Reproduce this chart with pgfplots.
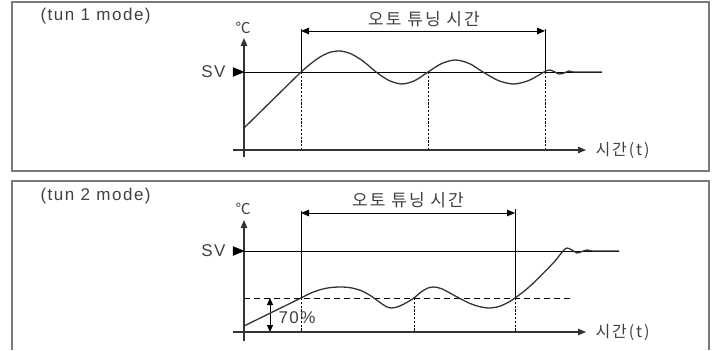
\documentclass[border=0pt]{standalone}
\usepackage{fontspec}
\setmainfont{Liberation Sans}[LetterSpace=9]
\newfontfamily\kr{Noto Sans CJK KR}[LetterSpace=12]
\usepackage{pgfplots}
\pgfplotsset{compat=1.18}
\usetikzlibrary{arrows.meta}

\definecolor{ink}{HTML}{333333}
\definecolor{txt}{HTML}{404040}
\definecolor{frame}{HTML}{7A7A7A}

\tikzset{
  ar/.style={-{Triangle[length=8pt,width=6.5pt]}},
  arr/.style={{Triangle[length=8pt,width=6.5pt]}-{Triangle[length=8pt,width=6.5pt]}},
  fine dash/.style={dash pattern=on 2.2pt off 1.6pt},
  long dash/.style={dash pattern=on 6pt off 4pt},
}
\pgfplotsset{panel/.style={
  scale only axis, width=716pt, height=175pt,
  xmin=0, xmax=716, y dir=reverse, hide axis, clip=false,
}}

\begin{document}
\begin{tikzpicture}
% ---------- tun 1 mode ----------
\begin{axis}[panel, ymin=0, ymax=175, at={(0,0)}, anchor=north west]
\addplot[draw=none] coordinates {(0,0) (716,175)};
\addplot[frame, line width=1.6pt, line cap=rect] coordinates {(12,2) (709,2) (709,171) (12,171) (12,2)};
\node[anchor=west, text=txt, font=\fontsize{17}{20}\selectfont] at (axis cs:37,16) {(tun 1 mode)};
% guides
\addplot[black, line width=0.9pt, fine dash] coordinates {(301,72) (301,150)};
\addplot[black, line width=0.9pt, fine dash] coordinates {(428,72) (428,150)};
\addplot[black, line width=0.9pt, fine dash] coordinates {(545,72) (545,150)};
\addplot[black, line width=1pt] coordinates {(301,29) (301,72)};
\addplot[black, line width=1pt] coordinates {(545,29) (545,72)};
\addplot[black, line width=1pt, arr] coordinates {(301,31) (545,31)};
\node[text=txt, font=\kr\fontsize{17}{20}\selectfont] at (axis cs:424,19) {오토 튜닝 시간};
% axes
\addplot[ink, line width=1.4pt, ar] coordinates {(244,157) (244,38)};
\addplot[ink, line width=1.1pt, ar] coordinates {(233,150) (586,150)};
\node[anchor=west, text=txt, font=\kr\fontsize{16}{19}\selectfont] at (axis cs:592,150) {시간(t)};
\node[text=txt, font=\kr\fontsize{15}{17}\selectfont] at (axis cs:243,28) {℃};
\node[anchor=east, text=txt, font=\fontsize{17}{20}\selectfont] at (axis cs:229,72) {SV};
\addplot[black, fill=black] coordinates {(233,67.5) (244,72) (233,76.5) (233,67.5)};
\addplot[black, line width=1pt] coordinates {(244,72) (602,72)};
% response
\addplot[ink, line width=1.3pt] coordinates {(244,128) (301,72)};
\addplot[ink, line width=1.3pt, smooth] coordinates {
  (301,72) (310,64.3) (320,57) (330,52.3) (340,51) (350,53.4) (360,59) (368,65.1)
  (376,72) (389,80.5) (402,84) (415,80.5) (428,72) (441.75,63.5) (455.5,60)
  (469.25,63.5) (483,72) (498.25,80.5) (513.5,84) (528.75,80.5) (544,72)
  (547,70.5) (550,70) (554,71.5) (559,74) (564,73) (569,71) (573,72) (580,72) (602,72)};
\end{axis}

% ---------- tun 2 mode ----------
\begin{axis}[panel, ymin=175, ymax=350, at={(0,-175pt)}, anchor=north west]
\addplot[draw=none] coordinates {(0,175) (716,350)};
\addplot[frame, line width=1.6pt] coordinates {(12,350) (12,181) (709,181) (709,350)};
\node[anchor=west, text=txt, font=\fontsize{17}{20}\selectfont] at (axis cs:37,196) {(tun 2 mode)};
% guides
\addplot[black, line width=0.9pt, long dash] coordinates {(244,298) (570,298)};
\addplot[black, line width=0.9pt, fine dash] coordinates {(301,298) (301,332)};
\addplot[black, line width=0.9pt, fine dash] coordinates {(414,298) (414,332)};
\addplot[black, line width=0.9pt, fine dash] coordinates {(515,298) (515,332)};
\addplot[black, line width=1pt] coordinates {(301,211) (301,298)};
\addplot[black, line width=1pt] coordinates {(515,209) (515,298)};
\addplot[black, line width=1pt, arr] coordinates {(301,213) (515,213)};
\node[text=txt, font=\kr\fontsize{17}{20}\selectfont] at (axis cs:408,200) {오토 튜닝 시간};
\addplot[black, line width=1pt, {Triangle[length=7pt,width=6pt]}-{Triangle[length=7pt,width=6pt]}] coordinates {(270,298) (270,332)};
\node[anchor=west, text=txt, font=\fontsize{17}{20}\selectfont] at (axis cs:275,318) {70\%};
% axes
\addplot[ink, line width=1.4pt, ar] coordinates {(244,341) (244,220)};
\addplot[ink, line width=1.1pt, ar] coordinates {(233,332) (586,332)};
\node[anchor=west, text=txt, font=\kr\fontsize{16}{19}\selectfont] at (axis cs:592,332) {시간(t)};
\node[text=txt, font=\kr\fontsize{15}{17}\selectfont] at (axis cs:243,209) {℃};
\node[anchor=east, text=txt, font=\fontsize{17}{20}\selectfont] at (axis cs:229,251) {SV};
\addplot[black, fill=black] coordinates {(233,246.5) (244,251) (233,255.5) (233,246.5)};
\addplot[black, line width=1pt] coordinates {(244,251) (619,251)};
% response
\addplot[ink, line width=1.3pt] coordinates {(244,326) (301,298)};
\addplot[ink, line width=1.3pt, smooth] coordinates {
  (301,298) (311,293) (321,289.5) (331,287.5) (342,287) (352,288) (362,291)
  (371,296) (380,302.5) (386,306.5) (391,308) (397,307) (404,304) (414,298)
  (421,292) (428,288) (434,287) (441,288.5) (449,292.5) (459,298) (469,303)
  (479,306.5) (489,308) (499,306.5) (508,302.5) (515,298) (525,290.5) (535,281.5)
  (545,271.5) (555,261) (563,251) (567,248) (572,250) (577,253) (582,251.5)
  (587,250) (592,251) (600,251) (619,251)};
\end{axis}
\end{tikzpicture}
\end{document}
